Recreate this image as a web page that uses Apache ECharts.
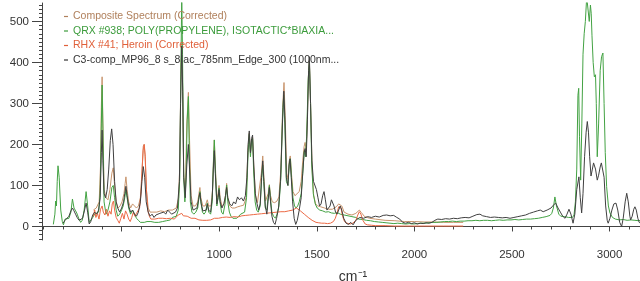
<!DOCTYPE html>
<html>
<head>
<meta charset="utf-8">
<script src="https://cdn.jsdelivr.net/npm/echarts@6/dist/echarts.min.js"></script>
<style>
  html, body { margin: 0; padding: 0; background: #fff; }
  #chart { width: 640px; height: 281px; }
</style>
</head>
<body>
<div id="chart"></div>
<script>
// series names (legend order)
var seriesNames = [
  'Composite Spectrum (Corrected)',
  'QRX #938; POLY(PROPYLENE), ISOTACTIC*BIAXIA...',
  'RHX #41; Heroin (Corrected)',
  'C3-comp_MP96_8 s_8 ac_785nm_Edge_300 (1000nm...'
];
var lineColors = ['#c8946c', '#43a243', '#ec6a45', '#404040'];
var textColors = ['#b0805c', '#3c9c3c', '#e0603a', '#333333'];

// tick labels
var wavenumberTicks = [500, 1000, 1500, 2000, 2500, 3000];
var intensityTicks = [0, 100, 200, 300, 400, 500];

// [wavenumber cm-1, intensity]
var compositeSpectrum = [
  [355,40],[370,45],[385,60],[392,150],[396,290],[400,365],[404,250],[410,90],[420,70],[430,65],
  [440,90],[450,130],[457,143],[464,100],[472,60],[482,45],[492,50],[502,60],[512,80],[518,105],
  [522,121],[528,90],[536,60],[546,45],[556,55],[566,50],[576,45],[586,50],[596,70],[604,130],
  [610,185],[615,200],[620,175],[627,90],[636,45],[646,35],[660,35],[680,35],[700,38],[720,36],
  [740,40],[760,40],[780,45],[792,70],[798,150],[804,400],[808,430],[812,350],[818,130],[826,80],
  [834,250],[842,327],[848,210],[856,75],[866,50],[878,50],[890,60],[896,80],[901,95],[906,70],
  [916,50],[928,50],[939,65],[946,50],[958,50],[966,90],[971,170],[975,211],[980,150],[988,65],
  [994,80],[999,100],[1005,70],[1014,50],[1024,55],[1032,75],[1038,105],[1044,70],[1054,50],[1066,45],
  [1080,45],[1095,48],[1110,50],[1125,52],[1138,70],[1147,185],[1154,228],[1160,180],[1166,205],[1171,218],
  [1177,150],[1186,75],[1196,58],[1206,60],[1216,130],[1223,172],[1229,120],[1237,62],[1246,60],[1251,80],
  [1257,102],[1263,75],[1272,60],[1284,58],[1296,62],[1306,72],[1316,140],[1325,290],[1332,351],[1338,270],
  [1346,130],[1353,115],[1359,160],[1364,172],[1370,130],[1378,85],[1388,75],[1398,75],[1410,85],[1420,110],
  [1428,160],[1435,195],[1440,205],[1446,185],[1452,270],[1458,380],[1462,405],[1468,300],[1476,140],[1484,75],
  [1494,55],[1505,50],[1520,48],[1540,45],[1560,42],[1580,42],[1600,48],[1612,55],[1620,58],[1628,50],
  [1640,35],[1660,30],[1680,28],[1700,32],[1718,40],[1728,34],[1745,24],[1770,20],[1800,18],[1850,15],
  [1900,14],[1950,12],[2000,12],[2050,11],[2100,11],[2150,10],[2200,10],[2250,10]
];

var polypropyleneSpectrum = [
  [150,5],[158,30],[162,62],[166,50],[170,110],[174,148],[180,120],[188,40],[196,12],[202,4],
  [210,18],[220,15],[230,20],[240,35],[248,67],[256,45],[262,40],[270,33],[280,20],[290,10],
  [298,15],[308,40],[318,85],[326,50],[334,10],[342,6],[352,22],[362,30],[372,28],[382,35],
  [390,80],[396,250],[400,345],[404,240],[410,60],[420,30],[430,40],[440,60],[450,95],[457,100],
  [464,70],[472,40],[480,25],[490,30],[500,40],[508,50],[516,70],[522,90],[528,70],[536,45],
  [546,30],[556,40],[566,30],[576,20],[586,15],[596,10],[606,8],[616,10],[630,12],[640,10],
  [650,12],[660,8],[670,10],[680,12],[690,10],[700,14],[710,12],[720,16],[730,14],[740,18],
  [750,16],[760,22],[770,20],[780,25],[790,40],[798,120],[804,400],[808,560],[812,420],[818,120],
  [824,60],[830,120],[836,260],[842,317],[846,200],[852,60],[860,35],[870,30],[880,35],[890,45],
  [896,70],[901,85],[906,60],[914,35],[922,30],[930,35],[939,57],[946,35],[956,30],[964,60],
  [970,150],[975,211],[980,140],[988,50],[994,70],[999,94],[1004,60],[1012,35],[1020,30],[1030,55],
  [1038,101],[1044,60],[1052,35],[1060,25],[1070,20],[1080,18],[1090,20],[1100,25],[1110,30],[1120,28],
  [1130,35],[1140,70],[1148,180],[1154,225],[1160,170],[1166,210],[1171,215],[1176,140],[1184,60],[1192,40],
  [1200,35],[1210,50],[1218,120],[1223,150],[1228,110],[1236,45],[1244,40],[1250,70],[1257,100],[1262,70],
  [1270,35],[1278,25],[1288,20],[1296,30],[1306,50],[1316,120],[1324,260],[1330,320],[1336,250],[1344,110],
  [1352,100],[1360,160],[1365,165],[1370,120],[1378,70],[1386,50],[1394,45],[1402,50],[1410,60],[1420,80],
  [1428,130],[1436,185],[1442,170],[1448,220],[1456,360],[1462,400],[1468,300],[1474,150],[1482,80],[1492,55],
  [1502,45],[1515,40],[1530,38],[1545,35],[1560,36],[1575,33],[1590,32],[1605,34],[1620,30],[1640,28],
  [1660,26],[1680,24],[1700,22],[1715,18],[1725,21],[1735,17],[1745,20],[1755,15],[1765,18],[1775,14],
  [1785,17],[1795,12],[1805,15],[1815,11],[1825,14],[1835,10],[1845,13],[1855,9],[1865,12],[1875,8],
  [1885,11],[1895,7],[1905,10],[1915,8],[1925,11],[1935,7],[1945,10],[1955,6],[1965,9],[1975,7],
  [1985,10],[1995,6],[2005,9],[2015,7],[2025,10],[2035,8],[2045,11],[2055,8],[2065,12],[2075,9],
  [2085,12],[2095,10],[2105,13],[2115,10],[2125,14],[2135,11],[2145,14],[2155,12],[2165,15],[2175,12],
  [2185,16],[2195,13],[2205,16],[2215,12],[2225,15],[2235,13],[2245,17],[2255,13],[2265,16],[2275,14],
  [2285,18],[2295,14],[2305,17],[2315,15],[2325,18],[2335,14],[2345,17],[2355,15],[2365,19],[2375,15],
  [2385,17],[2395,14],[2405,18],[2415,15],[2425,17],[2435,16],[2445,19],[2455,15],[2465,18],[2475,16],
  [2485,19],[2495,16],[2505,18],[2515,17],[2525,20],[2535,16],[2545,19],[2555,17],[2565,20],[2575,18],
  [2585,21],[2595,18],[2605,22],[2615,19],[2625,23],[2635,20],[2645,24],[2655,22],[2665,26],[2675,24],
  [2685,28],[2695,27],[2704,32],[2712,45],[2720,72],[2728,50],[2740,30],[2750,25],[2760,22],[2770,24],
  [2780,20],[2790,22],[2800,20],[2810,22],[2818,28],[2825,60],[2832,140],[2838,320],[2842,337],[2846,220],
  [2852,113],[2858,250],[2864,420],[2870,470],[2876,500],[2883,560],[2890,560],[2896,500],[2902,540],[2906,520],
  [2910,465],[2916,400],[2922,365],[2928,370],[2932,300],[2937,170],[2944,250],[2952,380],[2959,414],[2966,423],
  [2972,300],[2978,180],[2985,97],[2994,50],[3002,33],[3015,22],[3030,18],[3040,20],[3050,16],[3060,19],
  [3070,17],[3080,18],[3090,15],[3100,18],[3110,16],[3120,17],[3130,15],[3140,17],[3150,14],[3158,15]
];

var heroinSpectrum = [
  [355,25],[362,40],[368,22],[376,32],[384,18],[392,42],[400,50],[406,35],[414,28],[422,42],
  [430,25],[438,38],[446,30],[452,55],[458,62],[464,40],[472,22],[480,15],[488,8],[496,20],
  [504,32],[512,18],[520,38],[528,30],[536,18],[544,12],[552,22],[560,35],[568,25],[576,32],
  [584,28],[592,45],[600,85],[606,150],[611,195],[616,200],[621,170],[627,90],[634,40],[642,25],
  [650,18],[660,22],[670,18],[680,22],[690,20],[700,24],[710,20],[720,22],[730,19],[740,23],
  [750,20],[760,22],[770,18],[780,22],[790,28],[800,25],[808,32],[816,26],[826,22],[836,25],
  [846,22],[856,20],[866,24],[876,20],[886,18],[896,16],[906,18],[916,15],[926,17],[936,15],
  [946,18],[956,16],[966,18],[976,20],[986,18],[996,20],[1006,19],[1016,22],[1026,20],[1036,23],
  [1046,20],[1056,22],[1066,20],[1076,24],[1086,21],[1096,23],[1106,22],[1116,26],[1126,24],[1136,27],
  [1146,25],[1156,28],[1166,26],[1176,29],[1186,27],[1196,30],[1206,28],[1216,31],[1226,29],[1236,32],
  [1246,30],[1256,33],[1266,31],[1276,34],[1286,32],[1296,35],[1306,33],[1316,36],[1326,38],[1336,36],
  [1346,40],[1356,38],[1366,42],[1376,40],[1386,44],[1396,45],[1406,42],[1416,38],[1426,34],[1436,30],
  [1446,26],[1456,22],[1466,18],[1476,15],[1486,12],[1496,10],[1510,9],[1525,8],[1540,8],[1555,7],
  [1570,8],[1585,12],[1595,20],[1605,35],[1612,48],[1618,52],[1624,45],[1632,25],[1642,12],[1655,8],
  [1670,6],[1685,8],[1700,15],[1710,28],[1718,36],[1726,30],[1736,15],[1748,6],[1760,4],[1780,3],
  [1800,2],[1850,2],[1900,1],[1950,1],[2000,1],[2050,1],[2100,1],[2150,1],[2200,1],[2250,1]
];

var sampleSpectrum = [
  [200,8],[210,15],[220,12],[230,25],[240,38],[248,45],[256,38],[264,30],[272,22],[282,15],
  [292,12],[300,20],[310,40],[318,57],[326,35],[334,6],[342,12],[352,28],[362,35],[372,30],
  [382,40],[390,70],[396,180],[400,235],[404,160],[410,80],[418,70],[426,90],[434,140],[442,210],
  [449,238],[456,200],[464,110],[472,60],[480,45],[490,35],[500,45],[510,60],[516,80],[522,98],
  [528,75],[536,50],[546,35],[556,40],[566,30],[576,25],[586,35],[596,60],[604,110],[611,146],
  [618,120],[626,60],[636,35],[646,25],[656,30],[666,22],[676,28],[686,25],[696,32],[706,28],
  [716,35],[726,30],[736,40],[746,35],[756,30],[766,28],[776,35],[786,45],[796,110],[802,300],
  [808,440],[813,330],[818,120],[826,70],[834,150],[842,200],[848,140],[856,60],[866,40],[876,38],
  [886,45],[894,65],[901,82],[908,55],[916,38],[926,35],[934,40],[939,55],[946,40],[956,35],
  [964,70],[970,140],[975,185],[980,130],[988,55],[994,70],[999,90],[1005,60],[1014,45],[1024,55],
  [1032,75],[1038,95],[1044,70],[1054,55],[1064,50],[1074,60],[1084,55],[1094,72],[1104,65],[1114,70],
  [1124,62],[1134,75],[1142,120],[1148,200],[1154,233],[1160,180],[1166,215],[1171,223],[1177,150],[1185,80],
  [1194,55],[1202,40],[1210,55],[1217,120],[1223,160],[1229,110],[1236,50],[1244,30],[1250,60],[1257,95],
  [1263,60],[1270,25],[1278,10],[1286,5],[1294,20],[1304,45],[1314,110],[1324,250],[1331,330],[1337,260],
  [1344,120],[1352,100],[1358,150],[1363,165],[1369,120],[1376,60],[1384,20],[1392,5],[1400,15],[1410,40],
  [1420,70],[1428,130],[1435,180],[1440,190],[1446,170],[1452,260],[1458,380],[1462,414],[1468,300],[1475,160],
  [1483,110],[1491,106],[1498,90],[1506,70],[1514,50],[1522,55],[1530,75],[1537,85],[1544,65],[1552,40],
  [1560,38],[1568,50],[1575,65],[1581,67],[1588,50],[1596,35],[1604,30],[1612,40],[1620,50],[1628,40],
  [1638,20],[1650,8],[1662,5],[1674,10],[1686,4],[1700,15],[1720,22],[1740,20],[1760,24],[1780,22],
  [1800,25],[1820,23],[1840,27],[1858,28],[1876,26],[1894,27],[1910,22],[1925,18],[1940,10],[1955,8],
  [1970,10],[1985,7],[2000,9],[2015,6],[2030,8],[2045,7],[2060,9],[2075,8],[2090,10],[2105,15],
  [2120,18],[2140,17],[2160,19],[2180,18],[2200,20],[2220,19],[2240,21],[2260,22],[2280,21],[2300,25],
  [2320,29],[2336,30],[2350,26],[2370,24],[2390,22],[2410,23],[2430,22],[2450,21],[2470,22],[2490,20],
  [2510,22],[2530,24],[2550,26],[2570,28],[2590,32],[2610,35],[2630,38],[2645,40],[2660,36],[2680,40],
  [2700,45],[2712,52],[2724,57],[2736,45],[2748,35],[2760,25],[2772,20],[2782,30],[2792,42],[2802,30],
  [2813,8],[2822,30],[2832,90],[2843,121],[2850,70],[2857,33],[2864,80],[2872,170],[2880,230],[2886,256],
  [2892,230],[2898,170],[2905,123],[2912,140],[2918,155],[2922,158],[2928,140],[2937,113],[2944,125],[2952,145],
  [2958,155],[2965,155],[2972,120],[2980,50],[2988,15],[2993,8],[3002,20],[3012,40],[3022,55],[3033,57],
  [3042,40],[3052,10],[3062,0],[3070,20],[3080,60],[3088,81],[3096,60],[3104,25],[3108,16],[3116,25],
  [3124,42],[3130,48],[3137,40],[3145,20],[3152,10],[3158,8]
];

var spectra = [compositeSpectrum, polypropyleneSpectrum, heroinSpectrum, sampleSpectrum];

// minor tick positions (axis decoration, not data)
var xMinorTicks = [];
for (var t = 100; t <= 3100; t += 100) xMinorTicks.push(t);
var yMinorTicks = [];
for (var u = -30; u <= 540; u += 10) yMinorTicks.push(u);

var X_MIN = 92, X_MAX = 3156, Y_MIN = -33, Y_MAX = 545;
var axisColor = '#444';

function plain(v) { return String(v); }

var chart = echarts.init(document.getElementById('chart'), null, { renderer: 'canvas' });

var option = {
  animation: false,
  backgroundColor: '#ffffff',
  textStyle: { fontFamily: 'Liberation Sans, Arial, sans-serif' },
  grid: { left: 42, right: 0, top: 3, bottom: 41, containLabel: false, outerBoundsMode: 'none' },
  legend: {
    orient: 'vertical',
    left: 59,
    top: 6,
    icon: 'rect',
    itemWidth: 4,
    itemHeight: 1.2,
    itemGap: 3.5,
    selectedMode: false,
    data: seriesNames.map(function (n, i) {
      return { name: n, itemStyle: { color: textColors[i] }, textStyle: { color: textColors[i] } };
    }),
    textStyle: { fontSize: 10.5 }
  },
  xAxis: [
    {
      type: 'value', min: X_MIN, max: X_MAX,
      name: 'cm⁻¹', nameLocation: 'middle', nameGap: 30,
      nameTextStyle: { fontSize: 14, color: '#333', padding: [0, 0, 0, 24] },
      axisLine: { lineStyle: { color: axisColor, width: 1 } },
      axisTick: { customValues: wavenumberTicks, length: 5, lineStyle: { color: axisColor } },
      axisLabel: { customValues: wavenumberTicks, fontSize: 11.5, color: '#333', margin: 9, formatter: plain },
      splitLine: { show: false }
    },
    {
      type: 'value', min: X_MIN, max: X_MAX, position: 'bottom',
      axisLine: { show: false },
      axisTick: { customValues: xMinorTicks, length: 3, lineStyle: { color: axisColor } },
      axisLabel: { show: false },
      splitLine: { show: false }
    }
  ],
  yAxis: [
    {
      type: 'value', min: Y_MIN, max: Y_MAX,
      axisLine: { show: true, lineStyle: { color: axisColor, width: 1 } },
      axisTick: { show: true, customValues: intensityTicks, length: 10, lineStyle: { color: axisColor } },
      axisLabel: { customValues: intensityTicks, fontSize: 11.5, color: '#333', margin: 13, formatter: plain },
      splitLine: { show: false }
    },
    {
      type: 'value', min: Y_MIN, max: Y_MAX, position: 'left',
      axisLine: { show: false },
      axisTick: { show: true, customValues: yMinorTicks, length: 3, lineStyle: { color: axisColor } },
      axisLabel: { show: false },
      splitLine: { show: false }
    }
  ],
  series: spectra.map(function (d, i) {
    return {
      name: seriesNames[i],
      type: 'line',
      xAxisIndex: 0,
      yAxisIndex: 0,
      data: d,
      showSymbol: false,
      symbol: 'none',
      clip: true,
      lineStyle: { color: lineColors[i], width: 1 },
      itemStyle: { color: lineColors[i] },
      z: 2 + i
    };
  })
};

chart.setOption(option);
</script>
</body>
</html>
